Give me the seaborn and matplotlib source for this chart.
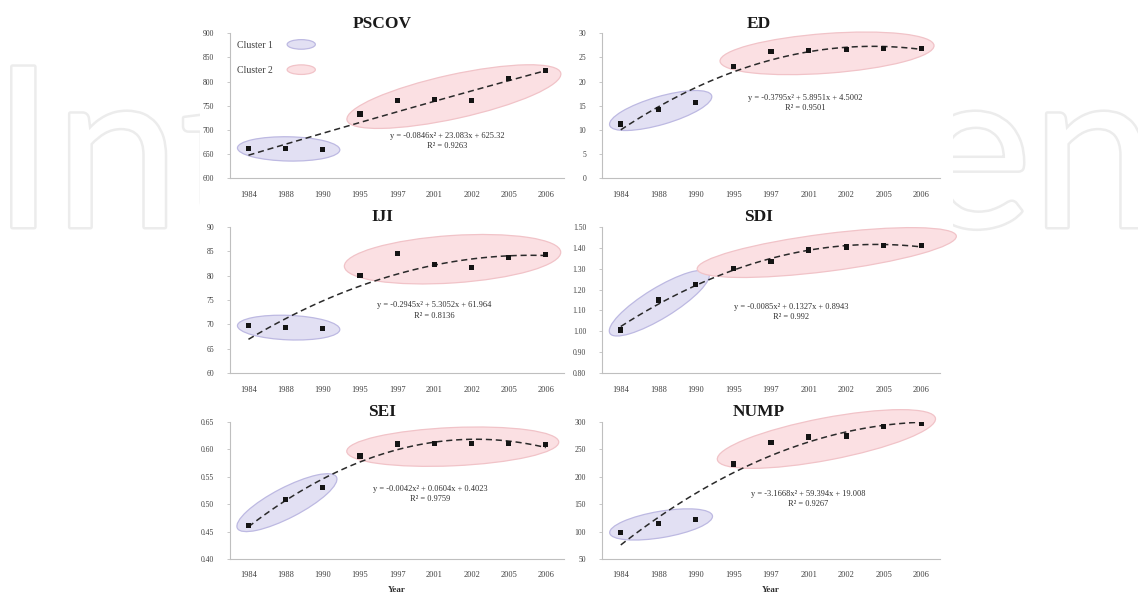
import numpy as np
import pandas as pd
import matplotlib
matplotlib.use("Agg")
import matplotlib.pyplot as plt
import seaborn as sns
from matplotlib.patches import Ellipse, Rectangle
from matplotlib.legend_handler import HandlerPatch
from matplotlib.transforms import IdentityTransform
import matplotlib.patheffects as pe

# ---------------- data ----------------
years = ["1984", "1988", "1990", "1995", "1997", "2001", "2002", "2005", "2006"]
clusters = [1, 1, 1, 2, 2, 2, 2, 2, 2]

pscov = [662, 661, 659, 733, 760, 763, 760, 807, 823]
ed = [11.2, 14.3, 15.7, 23.2, 26.2, 26.4, 26.6, 26.8, 26.8]
iji = [69.7, 69.3, 69.1, 80.1, 84.6, 82.3, 81.7, 83.7, 84.3]
sdi = [1.006, 1.150, 1.224, 1.300, 1.336, 1.389, 1.404, 1.412, 1.412]
sei = [0.4605, 0.5078, 0.5300, 0.5877, 0.6094, 0.6106, 0.6106, 0.6106, 0.6080]
nump = [98.4, 114.2, 121.4, 223.1, 262.5, 272.2, 274.0, 291.0, 296.4]

titles = ["PSCOV", "ED", "IJI", "SDI", "SEI", "NUMP"]
equations = [
    "y = -0.0846x\u00b2 + 23.083x + 625.32",
    "y = -0.3795x\u00b2 + 5.8951x + 4.5002",
    "y = -0.2945x\u00b2 + 5.3052x + 61.964",
    "y = -0.0085x\u00b2 + 0.1327x + 0.8943",
    "y = -0.0042x\u00b2 + 0.0604x + 0.4023",
    "y = -3.1668x\u00b2 + 59.394x + 19.008",
]
r_squared = ["R\u00b2 = 0.9263", "R\u00b2 = 0.9501", "R\u00b2 = 0.8136",
             "R\u00b2 = 0.992", "R\u00b2 = 0.9759", "R\u00b2 = 0.9267"]
y_ticks = [
    [600, 650, 700, 750, 800, 850, 900],
    [0, 5, 10, 15, 20, 25, 30],
    [60, 65, 70, 75, 80, 85, 90],
    [0.80, 0.90, 1.00, 1.10, 1.20, 1.30, 1.40, 1.50],
    [0.40, 0.45, 0.50, 0.55, 0.60, 0.65],
    [50, 100, 150, 200, 250, 300],
]
legend_labels = ["Cluster 1", "Cluster 2"]
x_label = "Year"
watermark = "IntechOpen"

series = [pscov, ed, iji, sdi, sei, nump]

# ---------------- style / layout ----------------
tick_fmt = ["{:.0f}", "{:.0f}", "{:.0f}", "{:.2f}", "{:.2f}", "{:.0f}"]
eq_pos = [(0.65, 0.32), (0.60, 0.58), (0.61, 0.49), (0.56, 0.48), (0.60, 0.54), (0.61, 0.50)]
c2_pad = [14, 13, 15, 36, 13, 15]
title_x = [0.455, 0.464]
col_left = [0.202, 0.529]
col_width = [0.294, 0.297]
row_bottom = [0.700, 0.372, 0.059]
row_height = [0.244, 0.246, 0.231]

face = {1: "#e2e0f3", 2: "#fbe0e3"}
edge = {1: "#bdb9e2", 2: "#f1c3c8"}

sns.set_theme(style="white")
plt.rcParams["font.family"] = ["Liberation Serif", "DejaVu Serif"]

fig = plt.figure(figsize=(11.38, 5.94), dpi=100)

# watermark and white plate behind the chart
fig.text(-0.007, 1 - 227 / 594, watermark, fontsize=161, family=["Lato", "DejaVu Sans"],
         color="white", va="baseline", ha="left", zorder=-3,
         path_effects=[pe.Stroke(linewidth=3.6, foreground="#ececec"), pe.Normal()])
fig.patches.append(Rectangle((200 / 1138, 0), (953 - 200) / 1138, 1, transform=fig.transFigure,
                             facecolor="white", edgecolor="none", zorder=-2))


class HandlerEllipse(HandlerPatch):
    def create_artists(self, legend, orig_handle, xdescent, ydescent, width, height, fontsize, trans):
        c = (width / 2 - xdescent, height / 2 - ydescent)
        p = Ellipse(xy=c, width=width, height=height * 1.1)
        self.update_prop(p, orig_handle, legend)
        p.set_transform(trans)
        return [p]


x_idx = np.arange(1, len(years) + 1)

for k, vals in enumerate(series):
    r, c = divmod(k, 2)
    ax = fig.add_axes([col_left[c], row_bottom[r], col_width[c], row_height[r]])
    ax.set_facecolor("white")
    df = pd.DataFrame({"x": x_idx, "y": vals, "cluster": clusters})

    sns.regplot(data=df, x="x", y="y", order=2, ci=None, scatter=False, ax=ax, truncate=True,
                line_kws=dict(color="#2a2a2a", lw=1.1, ls=(0, (4, 2.5)), zorder=2))
    sns.scatterplot(data=df, x="x", y="y", ax=ax, marker="s", s=14, color="#141414",
                    edgecolor="none", zorder=3, legend=False)

    yt = y_ticks[k]
    ax.set_xlim(0.5, len(years) + 0.5)
    ax.set_ylim(yt[0], yt[-1])
    ax.set_yticks(yt)
    ax.set_yticklabels([tick_fmt[k].format(v) for v in yt])
    ax.set_xticks(x_idx)
    ax.set_xticklabels(years)
    ax.set_xticks(np.arange(0.5, len(years) + 1, 0.5), minor=True)
    ax.tick_params(axis="x", which="major", length=0, pad=9, labelsize=6, labelcolor="#404040")
    ax.tick_params(axis="x", which="minor", length=2, width=0.6, color="#bfbfbf", direction="out")
    ax.tick_params(axis="y", which="major", length=2.5, width=0.6, color="#bfbfbf", pad=9,
                   labelsize=5.5, labelcolor="#404040", left=True)
    for s in ["top", "right"]:
        ax.spines[s].set_visible(False)
    for s in ["left", "bottom"]:
        ax.spines[s].set_color("#bfbfbf")
        ax.spines[s].set_linewidth(0.8)
    ax.set_xlabel(x_label if r == 2 else "", fontsize=6.5, fontweight="bold", color="#303030", labelpad=5)
    ax.set_ylabel("")
    ax.set_title(titles[k], fontsize=12.5, fontweight="bold", color="#1a1a1a", pad=4, x=title_x[c])

    ax.text(eq_pos[k][0], eq_pos[k][1], equations[k] + "\n" + r_squared[k], transform=ax.transAxes,
            ha="center", va="top", fontsize=6, color="#303030", linespacing=1.35, zorder=4)

    # cluster ellipses computed from the plotted points in display space
    pts = ax.transData.transform(np.column_stack([x_idx, vals]))
    for cl in (1, 2):
        sel = np.array(clusters) == cl
        p = pts[sel]
        m = p.mean(axis=0)
        w, v = np.linalg.eigh(np.cov((p - m).T))
        u = v[:, np.argmax(w)]
        if u[0] < 0:
            u = -u
        n = np.array([-u[1], u[0]])
        pu = (p - m) @ u
        pn = (p - m) @ n
        pad_a = 14 if cl == 1 else c2_pad[k]
        pad_b = 12 if cl == 1 else 14
        a = (pu.max() - pu.min()) / 2 + pad_a
        b = (pn.max() - pn.min()) / 2 + pad_b
        ctr = m + u * (pu.max() + pu.min()) / 2 + n * (pn.max() + pn.min()) / 2
        if cl == 1:
            ctr = ctr + u * 3
        ang = np.degrees(np.arctan2(u[1], u[0]))
        ell = Ellipse(ctr, 2 * a, 2 * b, angle=ang, transform=IdentityTransform(),
                      facecolor=face[cl], edgecolor=edge[cl], lw=0.9, zorder=1, clip_on=False)
        ax.add_artist(ell)

    if k == 0:
        handles = [Ellipse((0, 0), 1, 1, facecolor=face[1], edgecolor=edge[1], lw=0.9),
                   Ellipse((0, 0), 1, 1, facecolor=face[2], edgecolor=edge[2], lw=0.9)]
        ax.legend(handles, legend_labels, loc="upper left", bbox_to_anchor=(0.0, 1.0),
                  frameon=False, markerfirst=False, fontsize=7, labelcolor="#404040",
                  handlelength=2.9, handleheight=1.0, labelspacing=1.6, handletextpad=1.5,
                  borderaxespad=0.3, handler_map={Ellipse: HandlerEllipse()})

fig.savefig("out.png", dpi=100, facecolor="white")
